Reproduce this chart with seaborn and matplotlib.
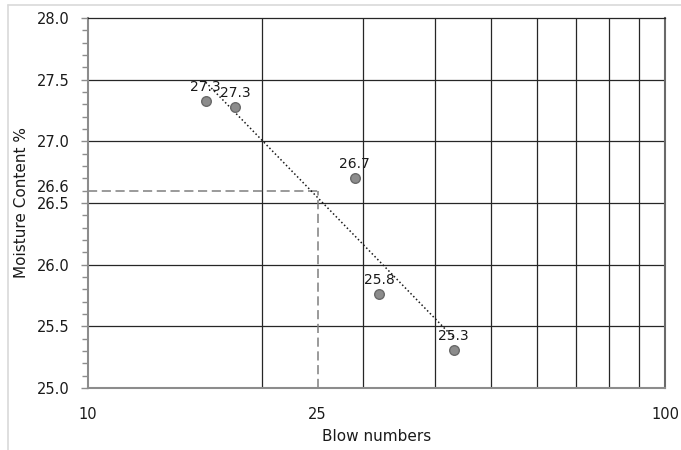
import numpy as np
import pandas as pd
import matplotlib
matplotlib.use("Agg")
import matplotlib.pyplot as plt
from matplotlib.lines import Line2D
from matplotlib.ticker import FixedLocator, NullFormatter, FixedFormatter
import seaborn as sns

# Liquid limit test readings
blows = [16, 18, 29, 32, 43]
moisture = [27.33, 27.28, 26.70, 25.76, 25.31]

# Value read at 25 blows
ref_blows = 25
ref_moisture = 26.6

x_tick_values = [10, 25, 100]
x_grid_values = [20, 30, 40, 50, 60, 70, 80, 90]
y_major_values = [25.0, 25.5, 26.0, 26.5, 27.0, 27.5, 28.0]

df = pd.DataFrame({"Blow numbers": blows, "Moisture Content %": moisture})

sns.set_theme(style="white")
plt.rcParams["font.family"] = ["DejaVu Sans"]

fig = plt.figure(figsize=(6.81, 4.5), dpi=100)
ax = fig.add_axes([88 / 681, 1 - 388 / 450, (665 - 88) / 681, (388 - 18) / 450])

ax.set_xscale("log")
ax.set_xlim(10, 100)
ax.set_ylim(25.0, 28.0)

grid_color = "#262626"
spine_color = "#8c8c8c"
text_color = "#1a1a1a"

# vertical and horizontal grid
for gx in x_grid_values:
    ax.axvline(gx, color=grid_color, lw=0.9, zorder=1)
for gy in y_major_values[1:-1]:
    ax.axhline(gy, color=grid_color, lw=0.9, zorder=1)

# logarithmic trend line
sns.regplot(data=df, x="Blow numbers", y="Moisture Content %", logx=True,
            scatter=False, ci=None, ax=ax,
            line_kws=dict(color=text_color, lw=1.1, linestyle=(0, (1, 1.6)), zorder=3))

# reading lines at 25 blows
ax.plot([10, ref_blows], [ref_moisture, ref_moisture], color="#7f7f7f",
        lw=1.1, linestyle=(0, (6, 3)), zorder=2)
ax.plot([ref_blows, ref_blows], [25.0, ref_moisture], color="#7f7f7f",
        lw=1.1, linestyle=(0, (6, 3)), zorder=2)

# data points
sns.scatterplot(data=df, x="Blow numbers", y="Moisture Content %", ax=ax,
                s=48, color="#8c8c8c", edgecolor="#6a6a6a", linewidth=1.0, zorder=4)

for bx, my in zip(blows, moisture):
    ax.annotate(f"{my:.1f}", (bx, my), xytext=(0, 5), textcoords="offset points",
                ha="center", va="bottom", fontsize=10, color=text_color, zorder=5)

# x ticks
ax.xaxis.set_major_locator(FixedLocator(x_tick_values))
ax.xaxis.set_major_formatter(FixedFormatter([str(v) for v in x_tick_values]))
ax.xaxis.set_minor_locator(FixedLocator([]))
ax.xaxis.set_minor_formatter(NullFormatter())
ax.tick_params(axis="x", which="both", length=0, pad=13.5, labelsize=10.5, labelcolor=text_color)

# y ticks
ax.yaxis.set_major_locator(FixedLocator(y_major_values))
ax.yaxis.set_major_formatter(FixedFormatter([f"{v:.1f}" for v in y_major_values]))
ax.yaxis.set_minor_locator(FixedLocator(np.round(np.arange(25.0, 28.01, 0.1), 2)))
ax.tick_params(axis="y", which="major", left=True, length=5, width=1, color=spine_color,
               pad=8, labelsize=10.5, labelcolor=text_color)
ax.tick_params(axis="y", which="minor", left=True, length=4, width=1, color=spine_color)

# label for the reading at 25 blows
ax.annotate(f"{ref_moisture:.1f}", xy=(0, ref_moisture), xycoords=ax.get_yaxis_transform(),
            xytext=(-13, 2), textcoords="offset points", ha="right", va="center",
            fontsize=10.5, color=text_color)

ax.grid(False)
for side in ["left", "bottom"]:
    ax.spines[side].set_color(spine_color)
    ax.spines[side].set_linewidth(1.5)
ax.spines["top"].set_color(grid_color)
ax.spines["top"].set_linewidth(0.9)
ax.spines["right"].set_color("#6a6a6a")
ax.spines["right"].set_linewidth(1.5)

ax.set_xlabel("Blow numbers", fontsize=11, color=text_color)
ax.set_ylabel("Moisture Content %", fontsize=11, color=text_color)
ax.xaxis.set_label_coords(0.5, -0.112)
ax.yaxis.set_label_coords(-0.103, 0.5)

# chart area frame
fig.add_artist(Line2D([8 / 681, 1.0], [1 - 5 / 450, 1 - 5 / 450], color="#d9d9d9", lw=1.2))
fig.add_artist(Line2D([8 / 681, 8 / 681], [0.0, 1 - 5 / 450], color="#d9d9d9", lw=1.2))

fig.savefig("out.png", dpi=100, facecolor="white")
